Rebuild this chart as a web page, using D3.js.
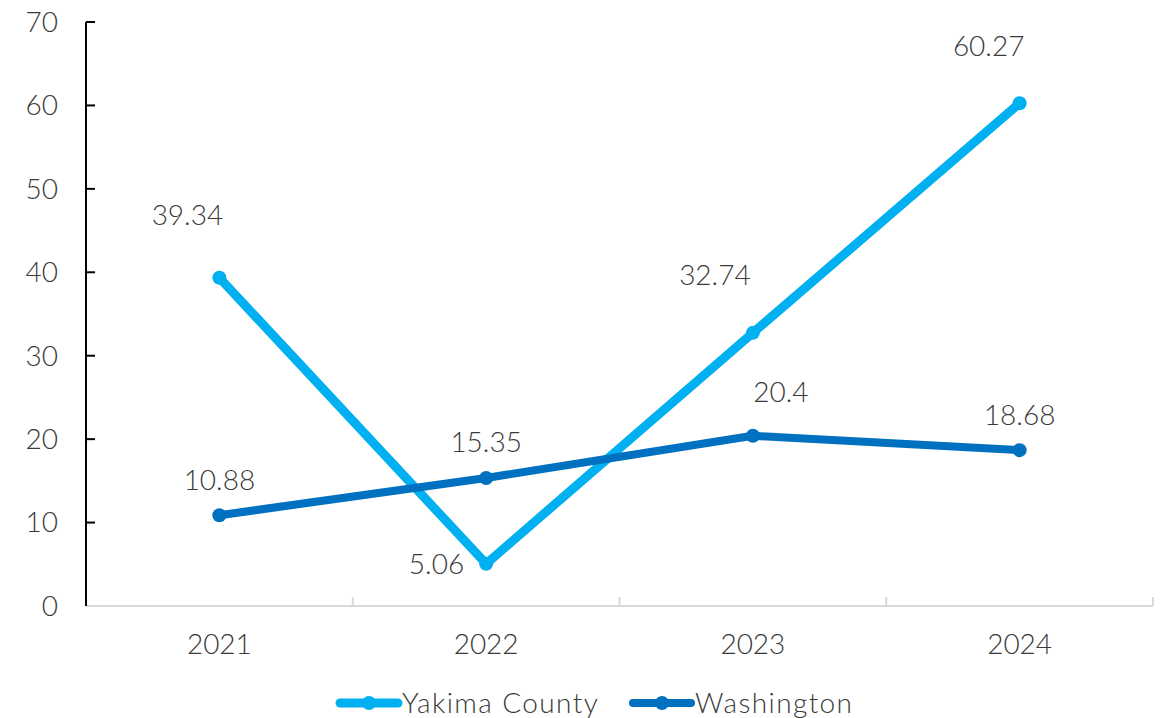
<!DOCTYPE html>
<html>
<head>
<meta charset="utf-8">
<script src="https://cdn.jsdelivr.net/npm/d3@7"></script>
<style>
  html, body { margin: 0; padding: 0; background: #fff; }
  svg text { font-family: Lato, "Open Sans", sans-serif; font-weight: 300; fill: #3a3a3a; }
</style>
</head>
<body>
<svg id="chart" width="1165" height="718"></svg>
<script>
// Chart data
const years = ["2021", "2022", "2023", "2024"];
const yakimaCounty = [39.34, 5.06, 32.74, 60.27];
const washington = [10.88, 15.35, 20.4, 18.68];
const seriesNames = ["Yakima County", "Washington"];
const yTicks = [0, 10, 20, 30, 40, 50, 60, 70];

const series = [
  { name: seriesNames[0], values: yakimaCounty, color: "#00B0F0", width: 9 },
  { name: seriesNames[1], values: washington, color: "#0070C0", width: 8 }
];

// Where each value label sits relative to its point
const labelPlacement = {
  "Yakima County": [{ dx: -32, dy: -63 }, { dx: -22, dy: 0, anchor: "end" }, { dx: -38, dy: -58 }, { dx: -31, dy: -57 }],
  "Washington":    [{ dx: 0, dy: -35 }, { dx: 0, dy: -36 }, { dx: 28, dy: -44 }, { dx: 0, dy: -35 }]
};

const svg = d3.select("#chart");
const margin = { left: 86, right: 12, top: 22, bottom: 112 };
const W = 1165, H = 718;

const x = d3.scaleBand().domain(years).range([margin.left, W - margin.right]).padding(0);
const y = d3.scaleLinear().domain([0, 70]).range([H - margin.bottom, margin.top]);

// X axis: light grey baseline with category separators
const xAxis = svg.append("g").attr("transform", `translate(0,${y(0)})`);
xAxis.append("line")
  .attr("x1", margin.left).attr("x2", W - margin.right)
  .attr("stroke", "#d9d9d9").attr("stroke-width", 2);
const bounds = [...years.map(d => x(d)), x(years[years.length - 1]) + x.bandwidth()];
xAxis.selectAll("line.sep").data(bounds.slice(1)).join("line")
  .attr("class", "sep")
  .attr("x1", d => d).attr("x2", d => d)
  .attr("y1", 0).attr("y2", -9)
  .attr("stroke", "#d9d9d9").attr("stroke-width", 2);
xAxis.selectAll("text").data(years).join("text")
  .attr("x", d => x(d) + x.bandwidth() / 2)
  .attr("y", 48)
  .attr("text-anchor", "middle")
  .attr("font-size", 28)
  .text(d => d);

// Y axis: black line, inner ticks, labels on the left
const yAxis = svg.append("g").attr("transform", `translate(${margin.left},0)`);
yAxis.append("line")
  .attr("y1", y(0)).attr("y2", y(70))
  .attr("stroke", "#000").attr("stroke-width", 2);
yAxis.selectAll("line.tick").data(yTicks.slice(1)).join("line")
  .attr("class", "tick")
  .attr("x1", 0).attr("x2", 9)
  .attr("y1", d => y(d)).attr("y2", d => y(d))
  .attr("stroke", "#000").attr("stroke-width", 2);
yAxis.selectAll("text").data(yTicks).join("text")
  .attr("x", -28)
  .attr("y", d => y(d))
  .attr("dy", "0.35em")
  .attr("text-anchor", "end")
  .attr("font-size", 28)
  .text(d => d);

// Lines, markers and value labels
const cx = (i) => x(years[i]) + x.bandwidth() / 2;
const line = d3.line().x((d, i) => cx(i)).y(d => y(d));

series.forEach(s => {
  const g = svg.append("g");
  g.append("path")
    .attr("d", line(s.values))
    .attr("fill", "none")
    .attr("stroke", s.color)
    .attr("stroke-width", s.width)
    .attr("stroke-linejoin", "round")
    .attr("stroke-linecap", "round");
  g.selectAll("circle").data(s.values).join("circle")
    .attr("cx", (d, i) => cx(i))
    .attr("cy", d => y(d))
    .attr("r", 7)
    .attr("fill", s.color);
  g.selectAll("text").data(s.values).join("text")
    .attr("x", (d, i) => cx(i) + labelPlacement[s.name][i].dx)
    .attr("y", (d, i) => y(d) + labelPlacement[s.name][i].dy)
    .attr("dy", "0.35em")
    .attr("text-anchor", (d, i) => labelPlacement[s.name][i].anchor || "middle")
    .attr("font-size", 28)
    .text(d => d);
});

// Legend
const legend = svg.append("g").attr("transform", `translate(0,703)`);
const legendX = [340, 633];
series.forEach((s, i) => {
  const lg = legend.append("g").attr("transform", `translate(${legendX[i]},0)`);
  lg.append("line")
    .attr("x1", 0).attr("x2", 58)
    .attr("stroke", s.color).attr("stroke-width", s.width)
    .attr("stroke-linecap", "round");
  lg.append("circle").attr("cx", 29).attr("r", 7).attr("fill", s.color);
  lg.append("text")
    .attr("x", 62).attr("dy", "0.35em")
    .attr("font-size", 28)
    .attr("letter-spacing", 1.4)
    .text(s.name);
});
</script>
</body>
</html>
